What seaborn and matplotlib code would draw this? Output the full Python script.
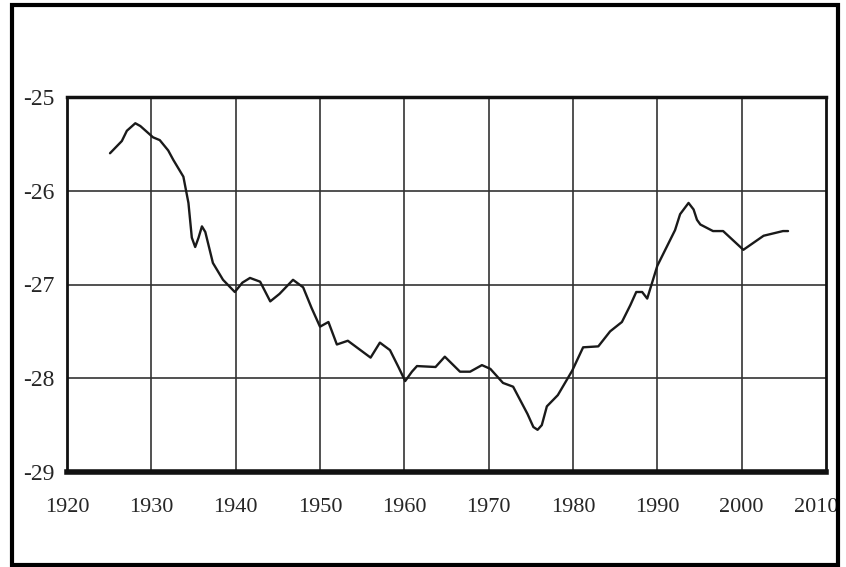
import numpy as np
import pandas as pd
import seaborn as sns
import matplotlib.pyplot as plt
import matplotlib.transforms as mtransforms
from matplotlib.patches import Rectangle

# values
years = [1925.1, 1926.5, 1927.1, 1928.1, 1928.7, 1929.2, 1930.2, 1931.0, 1932.0, 1932.6,
         1933.8, 1934.4, 1934.8, 1935.2, 1935.6, 1936.0, 1936.4, 1937.3, 1938.5, 1939.9,
         1940.8, 1941.7, 1942.9, 1944.1, 1945.2, 1946.8, 1948.0, 1949.0, 1950.0, 1951.0,
         1952.0, 1953.3, 1954.5, 1956.0, 1957.1, 1958.3, 1959.3, 1960.1, 1960.9, 1961.5,
         1963.7, 1964.8, 1966.6, 1967.8, 1969.2, 1970.2, 1971.7, 1972.9, 1974.6, 1975.3,
         1975.8, 1976.3, 1976.9, 1978.2, 1979.9, 1981.2, 1983.0, 1984.4, 1985.8, 1986.8,
         1987.5, 1988.2, 1988.8, 1990.0, 1992.1, 1992.7, 1993.7, 1994.3, 1994.7, 1995.1,
         1996.6, 1997.8, 2000.2, 2002.6, 2004.9, 2005.5]
values = [-25.60, -25.47, -25.36, -25.28, -25.31, -25.35, -25.43, -25.46, -25.57, -25.67,
          -25.85, -26.13, -26.50, -26.60, -26.50, -26.38, -26.44, -26.77, -26.95, -27.08,
          -26.98, -26.93, -26.97, -27.18, -27.10, -26.95, -27.03, -27.25, -27.45, -27.40,
          -27.64, -27.60, -27.68, -27.78, -27.62, -27.70, -27.88, -28.03, -27.93, -27.87,
          -27.88, -27.77, -27.93, -27.93, -27.86, -27.90, -28.05, -28.09, -28.38, -28.52,
          -28.55, -28.50, -28.30, -28.18, -27.92, -27.67, -27.66, -27.50, -27.40, -27.22,
          -27.08, -27.08, -27.15, -26.80, -26.42, -26.25, -26.13, -26.20, -26.31, -26.36,
          -26.43, -26.43, -26.63, -26.48, -26.43, -26.43]

x_ticks = [1920, 1930, 1940, 1950, 1960, 1970, 1980, 1990, 2000, 2010]
y_ticks = [-29, -28, -27, -26, -25]
y_tick_labels = ['-29', '-28', '-27', '-26', '-25']

df = pd.DataFrame({'year': years, 'value': values})

sns.set_style('white')
plt.rcParams['font.family'] = ['Liberation Serif', 'DejaVu Serif']

fig = plt.figure(figsize=(8.46, 5.67), dpi=100)
ax = fig.add_axes([67 / 846, 1 - 472 / 567, (826 - 67) / 846, (472 - 97) / 567])

# grid lines, drawn by hand like the scanned paper grid
for x in x_ticks[1:-1]:
    ax.axvline(x, color='#333333', lw=1.2, zorder=1)
for y in y_ticks[1:-1]:
    ax.axhline(y, color='#333333', lw=1.2, zorder=1)

sns.lineplot(data=df, x='year', y='value', color='#1a1a1a', lw=1.7, ax=ax, zorder=3)

ax.set_xlim(1920, 2010)
ax.set_ylim(-29, -25)
ax.set_xticks(x_ticks)
ax.set_yticks(y_ticks)
ax.set_yticklabels(y_tick_labels)
ax.tick_params(axis='x', length=0, pad=19, labelsize=16)
ax.tick_params(axis='y', length=0, pad=9, labelsize=17)
ax.set_xlabel('')
ax.set_ylabel('')

# last year label sits inside the frame in the original
last = ax.get_xticklabels()[-1]
last.set_transform(last.get_transform() + mtransforms.ScaledTranslation(-10 / 100, 0, fig.dpi_scale_trans))

for side, w in [('top', 2.5), ('bottom', 4), ('left', 2), ('right', 2)]:
    ax.spines[side].set_visible(True)
    ax.spines[side].set_color('#111111')
    ax.spines[side].set_linewidth(w)

# outer frame round the picture
fig.patches.append(Rectangle((12 / 846, 2 / 567), 826 / 846, 560 / 567,
                             transform=fig.transFigure, fill=False,
                             edgecolor='black', lw=3))

fig.savefig('out.png', dpi=100)
